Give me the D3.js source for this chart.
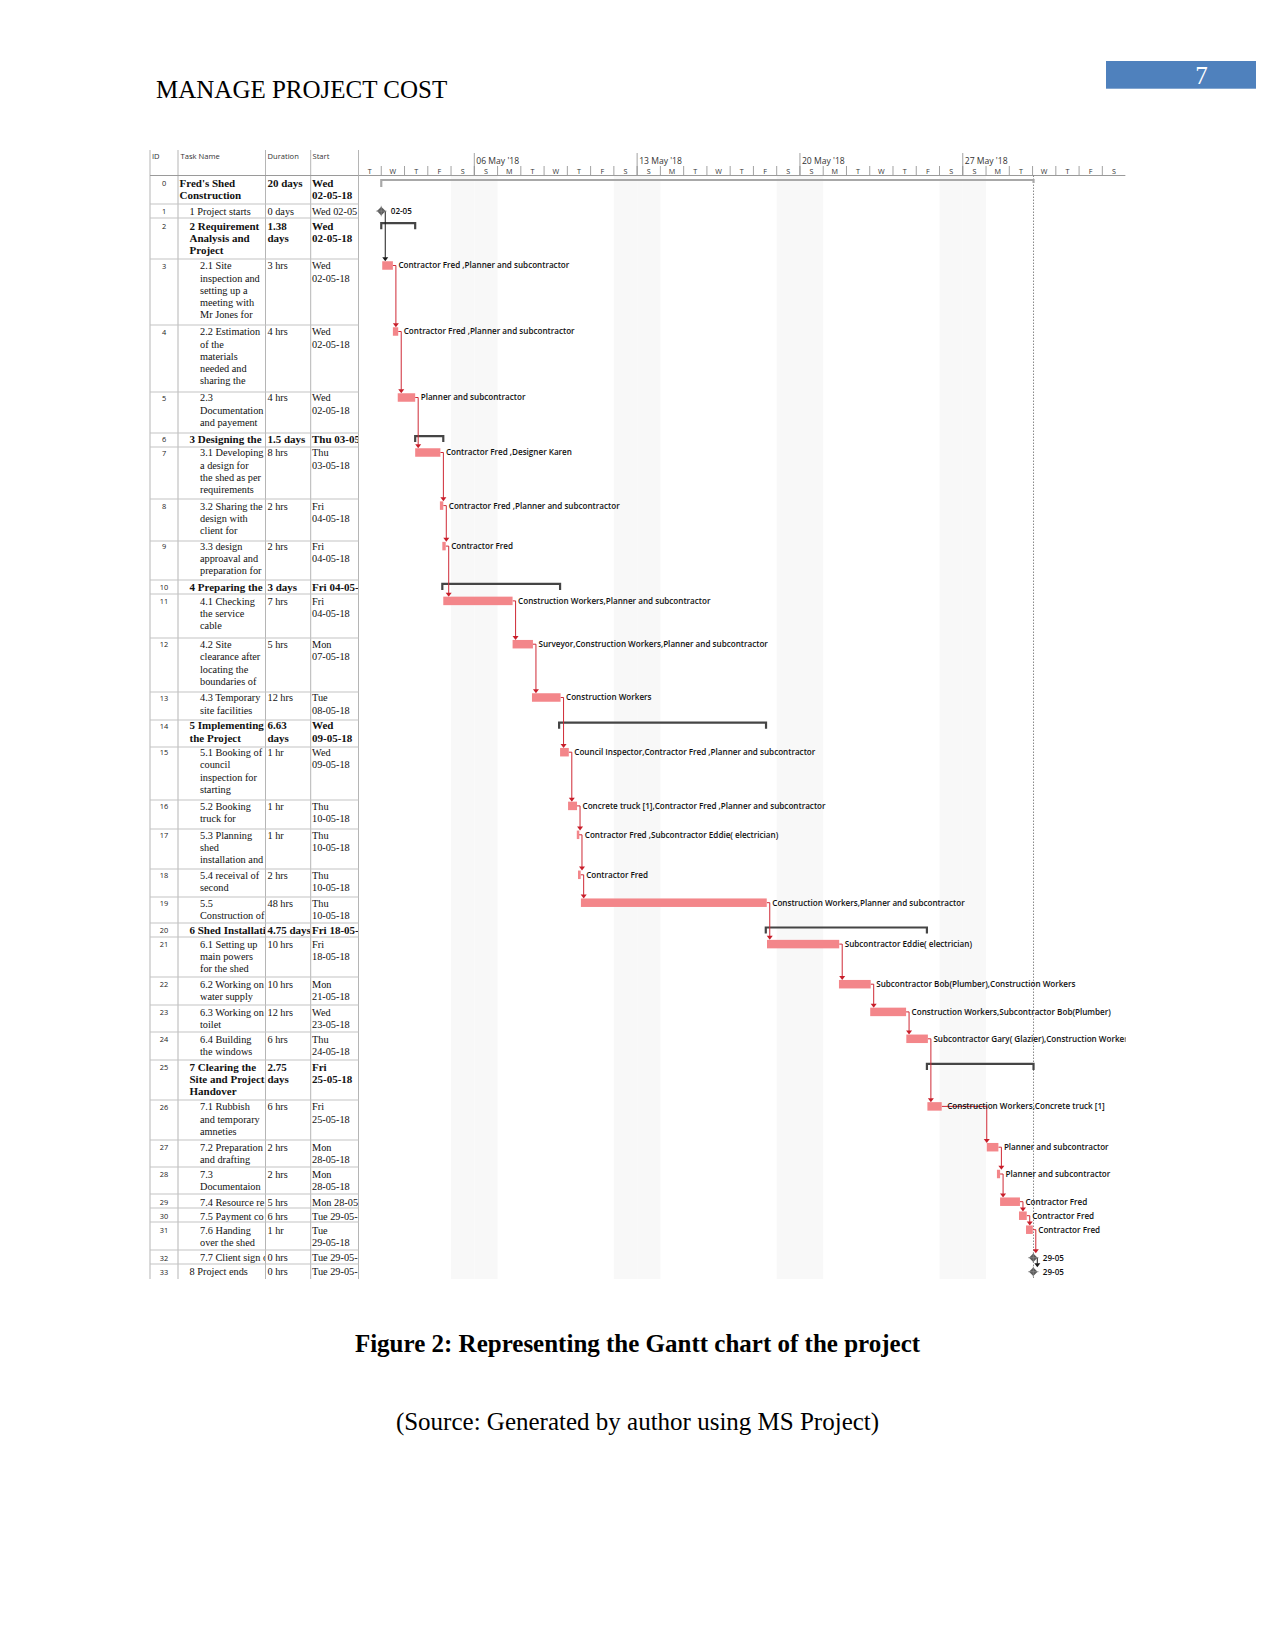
<!DOCTYPE html>
<html><head><meta charset="utf-8">
<script src="https://cdn.jsdelivr.net/npm/d3@7"></script>
<style>body{margin:0;background:#fff}</style>
</head><body>
<svg id="page" width="1275" height="1651"></svg>
<script>
// ---------------- DATA ----------------
const taskIds = d3.range(0, 34);
const taskNames = [
  "Fred's Shed\nConstruction",
  "1 Project starts",
  "2 Requirement\nAnalysis and\nProject",
  "2.1 Site\ninspection and\nsetting up a\nmeeting with\nMr Jones for",
  "2.2 Estimation\nof the\nmaterials\nneeded and\nsharing the",
  "2.3\nDocumentation\nand payement",
  "3 Designing the",
  "3.1 Developing\na design for\nthe shed as per\nrequirements",
  "3.2 Sharing the\ndesign with\nclient for",
  "3.3 design\napproaval and\npreparation for",
  "4 Preparing the",
  "4.1 Checking\nthe service\ncable",
  "4.2 Site\nclearance after\nlocating the\nboundaries of",
  "4.3 Temporary\nsite facilities",
  "5 Implementing\nthe Project",
  "5.1 Booking of\ncouncil\ninspection for\nstarting",
  "5.2 Booking\ntruck for",
  "5.3 Planning\nshed\ninstallation and",
  "5.4 receival of\nsecond",
  "5.5\nConstruction of",
  "6 Shed Installati",
  "6.1 Setting up\nmain powers\nfor the shed",
  "6.2 Working on\nwater supply",
  "6.3 Working on\ntoilet",
  "6.4 Building\nthe windows",
  "7 Clearing the\nSite and Project\nHandover",
  "7.1 Rubbish\nand temporary\namneties",
  "7.2 Preparation\nand drafting",
  "7.3\nDocumentaion",
  "7.4 Resource re",
  "7.5 Payment co",
  "7.6 Handing\nover the shed",
  "7.7 Client sign o",
  "8 Project ends"
];
const outlineLevels = [0,1,1,2,2,2,1,2,2,2,1,2,2,2,1,2,2,2,2,2,1,2,2,2,2,1,2,2,2,2,2,2,2,1];
const summaryRows = [0,2,6,10,14,20,25];
const durations = [
  "20 days","0 days","1.38\ndays","3 hrs","4 hrs","4 hrs","1.5 days","8 hrs","2 hrs","2 hrs",
  "3 days","7 hrs","5 hrs","12 hrs","6.63\ndays","1 hr","1 hr","1 hr","2 hrs","48 hrs",
  "4.75 days","10 hrs","10 hrs","12 hrs","6 hrs","2.75\ndays","6 hrs","2 hrs","2 hrs","5 hrs",
  "6 hrs","1 hr","0 hrs","0 hrs"
];
const startTexts = [
  "Wed\n02-05-18","Wed 02-05","Wed\n02-05-18","Wed\n02-05-18","Wed\n02-05-18","Wed\n02-05-18",
  "Thu 03-05","Thu\n03-05-18","Fri\n04-05-18","Fri\n04-05-18","Fri 04-05-","Fri\n04-05-18",
  "Mon\n07-05-18","Tue\n08-05-18","Wed\n09-05-18","Wed\n09-05-18","Thu\n10-05-18","Thu\n10-05-18",
  "Thu\n10-05-18","Thu\n10-05-18","Fri 18-05-","Fri\n18-05-18","Mon\n21-05-18","Wed\n23-05-18",
  "Thu\n24-05-18","Fri\n25-05-18","Fri\n25-05-18","Mon\n28-05-18","Mon\n28-05-18","Mon 28-05-",
  "Tue 29-05-","Tue\n29-05-18","Tue 29-05-","Tue 29-05-"
];
const barTypes = ["project","milestone","summary","task","task","task","summary","task","task","task",
  "summary","task","task","task","summary","task","task","task","task","task",
  "summary","task","task","task","task","summary","task","task","task","task",
  "task","task","milestone","milestone"];
const barStarts = [
  "2018-05-02T00:00","2018-05-02T00:00","2018-05-02T00:00","2018-05-02T01:00","2018-05-02T12:00",
  "2018-05-02T17:00","2018-05-03T11:00","2018-05-03T11:00","2018-05-04T12:30","2018-05-04T15:00",
  "2018-05-04T15:00","2018-05-04T16:00","2018-05-07T15:30","2018-05-08T11:30","2018-05-09T15:30",
  "2018-05-09T16:30","2018-05-10T00:45","2018-05-10T09:45","2018-05-10T11:00","2018-05-10T14:00",
  "2018-05-18T12:45","2018-05-18T14:00","2018-05-21T16:15","2018-05-23T00:30","2018-05-24T13:45",
  "2018-05-25T11:00","2018-05-25T11:30","2018-05-28T00:45","2018-05-28T11:15","2018-05-28T14:30",
  "2018-05-29T10:00","2018-05-29T17:15","2018-05-30T00:45","2018-05-30T00:45"
];
const barEnds = [
  "2018-05-30T01:00","2018-05-02T00:00","2018-05-03T11:00","2018-05-02T12:00","2018-05-02T17:30",
  "2018-05-03T11:00","2018-05-04T16:00","2018-05-04T13:00","2018-05-04T16:00","2018-05-04T18:30",
  "2018-05-09T16:30","2018-05-07T15:30","2018-05-08T12:30","2018-05-09T17:00","2018-05-18T13:00",
  "2018-05-10T01:30","2018-05-10T10:00","2018-05-10T12:00","2018-05-10T13:45","2018-05-18T13:45",
  "2018-05-25T11:00","2018-05-21T16:30","2018-05-23T01:00","2018-05-24T13:30","2018-05-25T12:00",
  "2018-05-30T01:00","2018-05-26T02:15","2018-05-28T12:45","2018-05-28T14:30","2018-05-29T11:00",
  "2018-05-29T18:00","2018-05-30T00:15","2018-05-30T00:45","2018-05-30T00:45"
];
const resourceLabels = [
  "","02-05","","Contractor Fred ,Planner and subcontractor","Contractor Fred ,Planner and subcontractor",
  "Planner and subcontractor","","Contractor Fred ,Designer Karen","Contractor Fred ,Planner and subcontractor",
  "Contractor Fred","","Construction Workers,Planner and subcontractor",
  "Surveyor,Construction Workers,Planner and subcontractor","Construction Workers","",
  "Council Inspector,Contractor Fred ,Planner and subcontractor",
  "Concrete truck [1],Contractor Fred ,Planner and subcontractor",
  "Contractor Fred ,Subcontractor Eddie( electrician)","Contractor Fred",
  "Construction Workers,Planner and subcontractor","","Subcontractor Eddie( electrician)",
  "Subcontractor Bob(Plumber),Construction Workers","Construction Workers,Subcontractor Bob(Plumber)",
  "Subcontractor Gary( Glazier),Construction Workers","","Construction Workers,Concrete truck [1]",
  "Planner and subcontractor","Planner and subcontractor","Contractor Fred","Contractor Fred",
  "Contractor Fred","29-05","29-05"
];
const links = [[1,3],[3,4],[4,5],[5,7],[7,8],[8,9],[9,11],[11,12],[12,13],[13,15],[15,16],[16,17],
  [17,18],[18,19],[19,21],[21,22],[22,23],[23,24],[24,26],[26,27],[27,28],[28,29],[29,30],[30,31],
  [31,32],[32,33]];
const weekStarts = ["2018-05-06T00:00","2018-05-13T00:00","2018-05-20T00:00","2018-05-27T00:00"];
const weekLabels = ["06 May '18","13 May '18","20 May '18","27 May '18"];
const dayLetters = ["T","W","T","F","S","S","M","T","W","T","F","S","S","M","T","W","T","F","S","S",
  "M","T","W","T","F","S","S","M","T","W","T","F","S"];
const headerLabels = ["ID","Task Name","Duration","Start"];

// ---------------- LAYOUT ----------------
const rowTops = [175,204,218,259,325,392,433,447,499,541,580,594,638,692,720,747,800,829,869,897,923,937,977,1005,1032,1060,1100,1140,1167,1194,1208,1222,1250,1264,1279];
const firstLineY = [183.4,211.1,226.2,265.8,331.8,397.8,439.1,452.8,505.9,546.4,586.9,601.2,644.5,697.8,725.7,752.5,806.2,835.1,875.1,903,930.5,944.4,984.5,1012.2,1039.1,1066.9,1106.7,1147.5,1174.3,1202,1216,1230,1257.7,1271.7];
const colX = [150,178,265.5,310.7,358.5];
const headerTop = 150, headerBottom = 175.5;
const chartLeft = 358.5, chartRight = 1125.6;
const tableBottom = rowTops[rowTops.length-1];
const lineH = 12.2;
const parse = d3.timeParse("%Y-%m-%dT%H:%M");
const x = d3.scaleTime().domain([parse("2018-05-01T00:00"), parse("2018-06-03T00:00")]).range([358.0, chartRight]);

const svg = d3.select("#page");
svg.append("rect").attr("width",1275).attr("height",1651).attr("fill","#fff");
const defs = svg.append("defs");
const serif = "'Liberation Serif','Times New Roman',serif";
const sans = "'Open Sans','Noto Sans',sans-serif";

// page header
svg.append("text").attr("x",156).attr("y",98).attr("font-family",serif).attr("font-size",25)
  .attr("fill","#000").text("MANAGE PROJECT COST");
svg.append("rect").attr("x",1106).attr("y",61).attr("width",150).attr("height",27.7).attr("fill","#4f81bd");
svg.append("text").attr("x",1201.5).attr("y",83.5).attr("text-anchor","middle").attr("font-family",serif)
  .attr("font-size",25).attr("fill","#fff").text("7");

// ---------------- TABLE ----------------
const table = svg.append("g");
const headerX = [152, 180.5, 267.5, 312.5];
headerLabels.forEach((h,i)=>{
  table.append("text").attr("x",headerX[i]).attr("y",159).attr("font-family",sans).attr("font-size",7.6)
    .attr("fill","#333").text(h);
});
colX.forEach(cx=>{
  table.append("line").attr("x1",cx).attr("x2",cx).attr("y1",headerTop).attr("y2",tableBottom)
    .attr("stroke","#b5b5b5").attr("stroke-width",1);
});
rowTops.slice(1,-1).forEach(t=>{
  table.append("line").attr("x1",colX[0]).attr("x2",colX[4]).attr("y1",t).attr("y2",t)
    .attr("stroke","#c3c3c3").attr("stroke-width",1);
});
table.append("line").attr("x1",colX[0]).attr("x2",colX[4]).attr("y1",headerBottom).attr("y2",headerBottom)
  .attr("stroke","#9a9a9a");

const levelX = [179.5, 189.5, 200];
function cellText(row, col, str, tx, bold){
  const id = `c${row}_${col}`;
  defs.append("clipPath").attr("id",id).append("rect")
    .attr("x",colX[col]+0.5).attr("y",rowTops[row]+0.5)
    .attr("width",colX[col+1]-colX[col]-1).attr("height",rowTops[row+1]-rowTops[row]-1);
  const t = table.append("text").attr("clip-path",`url(#${id})`)
    .attr("font-family",serif).attr("font-size",bold?11:10.3)
    .attr("font-weight",bold?"bold":"normal").attr("fill","#111");
  str.split("\n").forEach((ln,k)=>{
    t.append("tspan").attr("x",tx).attr("y",firstLineY[row]+3.6+k*lineH).text(ln);
  });
}
taskIds.forEach((id,i)=>{
  const bold = summaryRows.includes(i);
  table.append("text").attr("x",164).attr("y",firstLineY[i]+2.8).attr("text-anchor","middle")
    .attr("font-family",sans).attr("font-size",7.4).attr("fill","#222").text(id);
  cellText(i,1,taskNames[i],levelX[outlineLevels[i]],bold);
  cellText(i,2,durations[i],267.5,bold);
  cellText(i,3,startTexts[i],312,bold);
});

// ---------------- CHART ----------------
const chart = svg.append("g");
defs.append("clipPath").attr("id","chartClip").append("rect")
  .attr("x",chartLeft+0.5).attr("y",headerTop).attr("width",chartRight-chartLeft-0.5).attr("height",tableBottom-headerTop);
const cg = chart.append("g").attr("clip-path","url(#chartClip)");

const finishDate = parse(barEnds[0]);
const finishX = x(finishDate);
// non-working (weekend) shading
const days = d3.timeDay.range(parse("2018-05-01T00:00"), parse("2018-06-03T00:00"));
days.forEach(d=>{
  const wd = d.getDay();
  if((wd===0||wd===6) && d < finishDate){
    cg.append("rect").attr("x",x(d)).attr("y",headerBottom+0.5)
      .attr("width",x(d3.timeDay.offset(d,1))-x(d)).attr("height",tableBottom-headerBottom)
      .attr("fill","#f8f8f8");
  }
});
// timescale
days.forEach((d,i)=>{
  const x0 = x(d), x1 = x(d3.timeDay.offset(d,1));
  cg.append("line").attr("x1",x0).attr("x2",x0).attr("y1",166).attr("y2",headerBottom)
    .attr("stroke","#8a8a8a").attr("stroke-width",0.8);
  cg.append("text").attr("x",(x0+x1)/2).attr("y",174).attr("text-anchor","middle")
    .attr("font-family",sans).attr("font-size",7.2).attr("fill","#333").text(dayLetters[i]);
});
weekStarts.forEach((w,i)=>{
  const wx = x(parse(w));
  cg.append("line").attr("x1",wx).attr("x2",wx).attr("y1",153).attr("y2",headerBottom)
    .attr("stroke","#8a8a8a").attr("stroke-width",0.8);
  cg.append("text").attr("x",wx+2).attr("y",163.5).attr("font-family",sans).attr("font-size",8.6)
    .attr("fill","#333").text(weekLabels[i]);
});
cg.append("line").attr("x1",chartLeft).attr("x2",chartRight).attr("y1",headerBottom).attr("y2",headerBottom)
  .attr("stroke","#9a9a9a");

// finish dotted line
cg.append("line").attr("x1",finishX).attr("x2",finishX).attr("y1",headerBottom).attr("y2",tableBottom)
  .attr("stroke","#7a7a7a").attr("stroke-width",0.9).attr("stroke-dasharray","1.5,1.5");

const barH = 8.5;
const barTop = i => firstLineY[i]-0.3-barH/2;
const msY = i => firstLineY[i];

// summaries
barTypes.forEach((t,i)=>{
  const xs = x(parse(barStarts[i])), xe = x(parse(barEnds[i]));
  if(t==="project"){
    const y = firstLineY[i]-3.4;
    cg.append("path").attr("d",`M${xs},${y+7}V${y}H${xe}V${y+3}`).attr("fill","none")
      .attr("stroke","#a8a8a8").attr("stroke-width",2.2);
  } else if(t==="summary"){
    const y = firstLineY[i]-3;
    cg.append("path").attr("d",`M${xs},${y+6}V${y}H${xe}V${y+6}`).attr("fill","none")
      .attr("stroke","#454545").attr("stroke-width",2.2);
  }
});

// links
links.forEach(([p,s])=>{
  const pMs = barTypes[p]==="milestone", sMs = barTypes[s]==="milestone";
  const pEnd = pMs ? x(parse(barStarts[p]))+4 : x(parse(barEnds[p]));
  const pY = pMs ? msY(p) : barTop(p)+barH/2;
  const sStart = x(parse(barStarts[s]));
  const sTop = sMs ? msY(s)-4.5 : barTop(s);
  const vx = pMs ? pEnd : Math.max(pEnd+3, sStart);
  const col = pMs ? "#1a1a1a" : "#cf2a36";
  cg.append("path").attr("d",`M${pEnd},${pY}H${vx}V${sTop-3.5}`).attr("fill","none")
    .attr("stroke",col).attr("stroke-width",1);
  cg.append("path").attr("d",`M${vx-3},${sTop-4}L${vx+3},${sTop-4}L${vx},${sTop}Z`).attr("fill",pMs?"#1a1a1a":"#c81e2a");
});

// task bars, milestones, labels
barTypes.forEach((t,i)=>{
  const xs = x(parse(barStarts[i])), xe = x(parse(barEnds[i]));
  if(t==="task"){
    cg.append("rect").attr("x",xs).attr("y",barTop(i)).attr("width",Math.max(xe-xs,2.5)).attr("height",barH)
      .attr("fill","#f3868a");
  } else if(t==="milestone"){
    const cy = msY(i), r = 4.3;
    cg.append("path").attr("d",`M${xs},${cy-r}L${xs+r},${cy}L${xs},${cy+r}L${xs-r},${cy}Z`).attr("fill","#5a5a5a");
    cg.append("path").attr("d",`M${xs-r-1},${cy}H${xs+r+1}M${xs},${cy-r-1}V${cy+r+1}`).attr("stroke","#8a8a8a").attr("stroke-width",0.7);
  }
  if(resourceLabels[i]){
    const lx = t==="milestone" ? xs+9.5 : Math.max(xe,xs+2.5)+5.5;
    const ly = t==="milestone" ? msY(i)+2.9 : barTop(i)+barH/2+2.9;
    cg.append("text").attr("x",lx).attr("y",ly).attr("font-family",sans).attr("font-size",8.1)
      .attr("font-weight",600).attr("fill","#111").text(resourceLabels[i]);
  }
});

// captions
svg.append("text").attr("x",637.5).attr("y",1352).attr("text-anchor","middle").attr("font-family",serif)
  .attr("font-size",25).attr("font-weight","bold").attr("fill","#000")
  .text("Figure 2: Representing the Gantt chart of the project");
svg.append("text").attr("x",637.5).attr("y",1430).attr("text-anchor","middle").attr("font-family",serif)
  .attr("font-size",25).attr("fill","#000")
  .text("(Source: Generated by author using MS Project)");
</script>
</body></html>
